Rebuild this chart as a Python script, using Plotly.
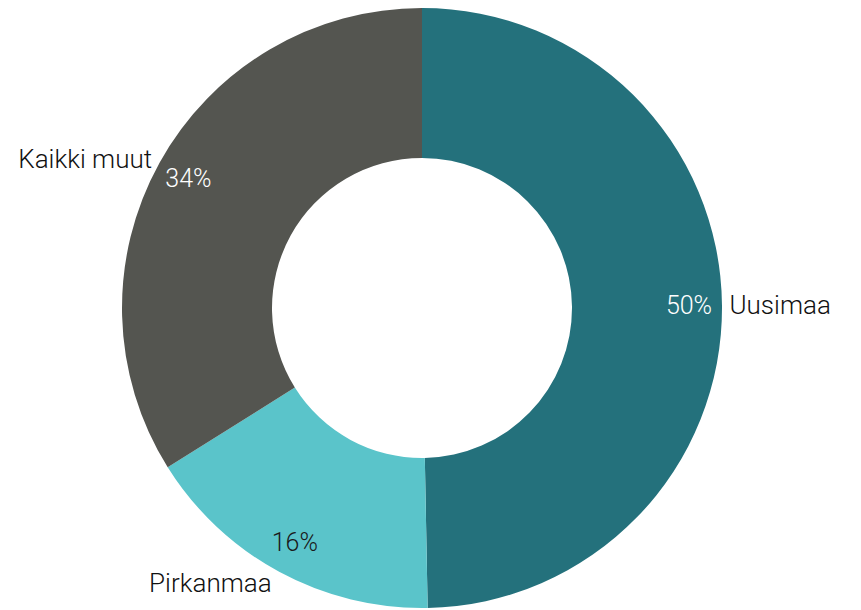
import plotly.graph_objects as go

labels = ["Uusimaa", "Pirkanmaa", "Kaikki muut"]
values = [49.7, 16.4, 33.9]
colors = ["#24717C", "#5AC4CA", "#545550"]
pct_colors = ["#FFFFFF", "#1A1A1A", "#FFFFFF"]

fig = go.Figure()

# Main donut with outside category labels
fig.add_trace(go.Pie(
    labels=labels, values=values, sort=False, direction="clockwise", rotation=0,
    hole=0.5,
    marker=dict(colors=colors, line=dict(width=0)),
    textinfo="label", textposition="outside",
    outsidetextfont=dict(family="Roboto", size=26, color="#111111", weight=300),
    automargin=False, showlegend=False, hoverinfo="label+percent",
))

# Transparent ring carrying the percentages near the outer edge
fig.add_trace(go.Pie(
    labels=labels, values=values, sort=False, direction="clockwise", rotation=0,
    hole=0.78,
    marker=dict(colors=["rgba(0,0,0,0)"] * 3, line=dict(width=0)),
    texttemplate="%{percent:.0%}", textposition="inside",
    insidetextorientation="horizontal",
    insidetextfont=dict(family="Roboto", size=25, color=pct_colors, weight=300),
    automargin=False, showlegend=False, hoverinfo="skip",
))

fig.update_layout(
    width=861, height=610,
    margin=dict(l=0, r=17, t=8, b=2),
    paper_bgcolor="white", plot_bgcolor="white",
)

fig.write_html("out.html", config={"displayModeBar": False},
               post_script="document.body.style.margin='0';")
